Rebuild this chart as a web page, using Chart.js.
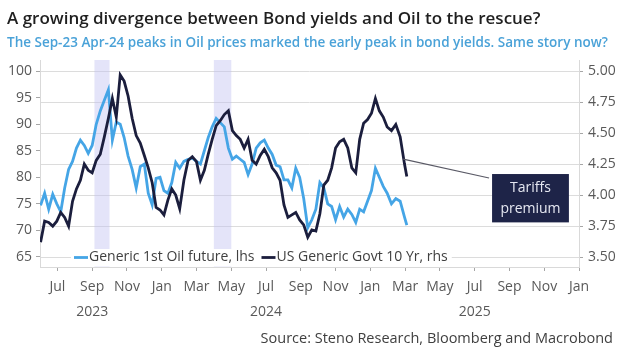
<!DOCTYPE html>
<html><head><meta charset="utf-8">
<script src="https://cdn.jsdelivr.net/npm/chart.js@4.4.1/dist/chart.umd.min.js"></script>
<style>
html,body{margin:0;padding:0;background:#fff;}
#wrap{position:relative;width:624px;height:357px;}
#source{position:absolute;right:11px;top:328px;line-height:20px;font-family:'Open Sans',sans-serif;font-size:14.5px;color:#404040;white-space:nowrap;}
</style></head><body>
<div id="wrap"><canvas id="c" width="624" height="357"></canvas><div id="source">Source: Steno Research, Bloomberg and Macrobond</div></div>
<script>
const dates = [
 '2023-06-02','2023-06-09','2023-06-16','2023-06-23','2023-06-30','2023-07-07','2023-07-14','2023-07-21','2023-07-28',
 '2023-08-04','2023-08-11','2023-08-18','2023-08-25','2023-09-01','2023-09-08','2023-09-15','2023-09-22','2023-09-29',
 '2023-10-06','2023-10-13','2023-10-20','2023-10-27','2023-11-03','2023-11-10','2023-11-17','2023-11-24',
 '2023-12-01','2023-12-08','2023-12-15','2023-12-22','2023-12-29',
 '2024-01-05','2024-01-12','2024-01-19','2024-01-26','2024-02-02','2024-02-09','2024-02-16','2024-02-23',
 '2024-03-01','2024-03-08','2024-03-15','2024-03-22','2024-03-29','2024-04-05','2024-04-12','2024-04-19','2024-04-26',
 '2024-05-03','2024-05-10','2024-05-17','2024-05-24','2024-05-31','2024-06-07','2024-06-14','2024-06-21','2024-06-28',
 '2024-07-05','2024-07-12','2024-07-19','2024-07-26','2024-08-02','2024-08-09','2024-08-16','2024-08-23','2024-08-30',
 '2024-09-06','2024-09-13','2024-09-20','2024-09-27','2024-10-04','2024-10-11','2024-10-18','2024-10-25',
 '2024-11-01','2024-11-08','2024-11-15','2024-11-22','2024-11-29','2024-12-06','2024-12-13','2024-12-20','2024-12-27',
 '2025-01-03','2025-01-10','2025-01-17','2025-01-24','2025-01-31','2025-02-07','2025-02-14','2025-02-21','2025-02-28',
 '2025-03-04'
];
const oilFuture = [
 74.7,77,74,76.8,75,73.5,78,81.5,83,
 85.5,87,86,84.5,86,90,92.5,94.5,96.5,
 87,90.4,90,87.5,84,81.5,78,82,
 82.5,77,74.8,79.8,80,
 77.5,77,79,82.8,81.7,83,83.4,83.6,
 83,82.5,85,87.5,89.5,91.1,90.3,89.5,85.5,
 83.4,84,83.4,82.8,80.5,82.5,85.5,86.5,87,
 85.5,84.3,82.3,82,79.5,79.5,78,81.7,80,
 76,70.5,72,74,79,78,75,74.5,
 72,74.5,72.5,74,73,71.5,74,73.5,75.5,
 77.5,81.7,80,78.3,77,75,76,75.5,72.5,
 71
];
const usGovt10y = [
 3.62,3.79,3.78,3.75,3.79,3.86,3.82,3.75,3.95,
 4.05,4.12,4.25,4.20,4.18,4.28,4.33,4.47,4.62,
 4.78,4.63,4.97,4.92,4.80,4.62,4.48,4.42,
 4.32,4.22,4.10,3.90,3.88,
 3.84,3.96,4.05,4.00,3.89,4.12,4.28,4.31,
 4.27,4.12,4.20,4.33,4.45,4.56,4.60,4.65,4.68,
 4.52,4.48,4.45,4.38,4.45,4.28,4.25,4.32,4.37,
 4.31,4.22,4.18,4.12,3.92,3.82,3.84,3.86,3.80,
 3.76,3.66,3.72,3.71,3.85,4.08,4.12,4.22,
 4.38,4.43,4.45,4.38,4.22,4.18,4.45,4.58,4.61,
 4.66,4.78,4.68,4.63,4.55,4.52,4.57,4.47,4.25,
 4.15
];
const seriesNames = ['Generic 1st Oil future, lhs','US Generic Govt 10 Yr, rhs'];
const monthNames = ['Jan','Feb','Mar','Apr','May','Jun','Jul','Aug','Sep','Oct','Nov','Dec'];
const monthTickDates = ['2023-07-01','2023-09-01','2023-11-01','2024-01-01','2024-03-01','2024-05-01','2024-07-01','2024-09-01','2024-11-01','2025-01-01','2025-03-01','2025-05-01','2025-07-01','2025-09-01','2025-11-01','2026-01-01'];
const yearLabels = ['2023','2024','2025'];
const yearLabelDates = ['2023-09-01','2024-07-01','2025-07-01'];
const leftTicks = [65,70,75,80,85,90,95,100];
const rightTicks = [3.50,3.75,4.00,4.25,4.50,4.75,5.00];
const shadedPeriods = [['2023-09-05','2023-10-01'],['2024-04-01','2024-05-01']];
const titleText = 'A growing divergence between Bond yields and Oil to the rescue?';
const subtitleText = 'The Sep-23 Apr-24 peaks in Oil prices marked the early peak in bond yields. Same story now?';
const noteLines = ['Tariffs','premium'];
const notePoint = {date:'2025-02-26', value:4.29};
const noteBox = {from:'2025-08-01', to:'2025-12-14', low:3.78, high:4.17};

function monthPos(s){
  const p = s.split('-').map(Number);
  const dim = new Date(p[0], p[1], 0).getDate();
  return (p[0]-2023)*12 + (p[1]-1) + (p[2]-1)/dim;
}
const FONT = "'Open Sans', sans-serif";
const COL_OIL = '#45a5e6';
const COL_YLD = '#1b1e3d';

const bandsPlugin = {
  id:'bands',
  beforeDatasetsDraw(chart){
    const {ctx, chartArea:a, scales:{x}} = chart;
    ctx.save();
    ctx.fillStyle = 'rgba(190,190,240,0.42)';
    shadedPeriods.forEach(p=>{
      const x0 = x.getPixelForValue(monthPos(p[0])), x1 = x.getPixelForValue(monthPos(p[1]));
      ctx.fillRect(x0, a.top, x1-x0, a.bottom-a.top);
    });
    ctx.restore();
  }
};
const overlayPlugin = {
  id:'overlay',
  afterDatasetsDraw(chart){
    const {ctx, chartArea:a, scales:{x, yR}} = chart;
    ctx.save();
    // legend
    ctx.font = '14px ' + FONT;
    ctx.textBaseline = 'middle';
    const ly = 257.5;
    const w1 = ctx.measureText(seriesNames[0]).width;
    const w2 = ctx.measureText(seriesNames[1]).width;
    const lx = 74;
    const x2 = lx + 15 + w1 + 7;
    ctx.fillStyle = '#ffffff';
    ctx.fillRect(lx-3, 249, (x2 + 15 + w2 + 4) - (lx-3), a.bottom - 249 - 0.5);
    ctx.lineWidth = 2.8;
    ctx.strokeStyle = COL_OIL;
    ctx.beginPath(); ctx.moveTo(lx, ly); ctx.lineTo(lx+14, ly); ctx.stroke();
    ctx.strokeStyle = COL_YLD;
    ctx.beginPath(); ctx.moveTo(x2, ly); ctx.lineTo(x2+14, ly); ctx.stroke();
    ctx.fillStyle = '#404040';
    ctx.fillText(seriesNames[0], lx+15, ly);
    ctx.fillText(seriesNames[1], x2+15, ly);
    // annotation
    const bx0 = x.getPixelForValue(monthPos(noteBox.from)), bx1 = x.getPixelForValue(monthPos(noteBox.to));
    const by0 = yR.getPixelForValue(noteBox.high), by1 = yR.getPixelForValue(noteBox.low);
    const px = x.getPixelForValue(monthPos(notePoint.date)), py = yR.getPixelForValue(notePoint.value);
    ctx.strokeStyle = '#5a5a66';
    ctx.lineWidth = 1.2;
    ctx.beginPath(); ctx.moveTo(bx0-3, by0+4); ctx.lineTo(px, py); ctx.stroke();
    ctx.fillStyle = '#1e2448';
    ctx.fillRect(bx0, by0, bx1-bx0, by1-by0);
    ctx.fillStyle = '#e6e8f2';
    ctx.textAlign = 'center';
    ctx.font = '14px ' + FONT;
    const cx = (bx0+bx1)/2, cy = (by0+by1)/2;
    ctx.fillText(noteLines[0], cx, cy-10);
    ctx.fillText(noteLines[1], cx, cy+11);
    ctx.restore();
  }
};
function zeroPad(s){ s.paddingTop=0; s.paddingBottom=0; s.paddingLeft=0; s.paddingRight=0; }

new Chart(document.getElementById('c'), {
  type:'line',
  data:{
    datasets:[
      {label:seriesNames[0], data:dates.map((d,i)=>({x:monthPos(d), y:oilFuture[i]})), yAxisID:'yL', borderColor:COL_OIL, borderWidth:2.8, pointRadius:0, tension:0, order:1},
      {label:seriesNames[1], data:dates.map((d,i)=>({x:monthPos(d), y:usGovt10y[i]})), yAxisID:'yR', borderColor:COL_YLD, borderWidth:2.8, pointRadius:0, tension:0, order:0}
    ]
  },
  options:{
    responsive:false, animation:false, devicePixelRatio:1,
    layout:{padding:{left:7,right:0,top:0,bottom:33}},
    plugins:{
      legend:{display:false}, tooltip:{enabled:false},
      title:{display:true, text:titleText, align:'start', color:'#1f1f1f', font:{family:FONT, size:17, weight:'600', lineHeight:1.2}, padding:{top:9,bottom:4}},
      subtitle:{display:true, text:subtitleText, align:'start', color:'#4aa2d8', font:{family:FONT, size:13.5, weight:'600', lineHeight:1.2}, padding:{top:1.5,bottom:8.9}}
    },
    scales:{
      x:{type:'linear', position:'bottom', min:5, max:36, weight:0,
        afterBuildTicks(s){ s.ticks = monthTickDates.map(d=>({value:monthPos(d)})); },
        ticks:{autoSkip:false, maxRotation:0, padding:8, color:'#595959', font:{family:FONT,size:14},
          callback(v){ return monthNames[Math.round(v)%12]; }},
        grid:{drawOnChartArea:false, drawTicks:true, tickLength:4, color:'#a6a6a6'},
        border:{color:'#d9d9d9'},
        afterFit(s){ s.height = 33; zeroPad(s); }
      },
      x2:{type:'linear', position:'bottom', min:5, max:36, weight:1,
        afterBuildTicks(s){ s.ticks = yearLabelDates.map(d=>({value:monthPos(d)})); },
        ticks:{autoSkip:false, maxRotation:0, padding:4, color:'#595959', font:{family:FONT,size:14},
          callback(v, i){ return yearLabels[i]; }},
        grid:{display:false, drawTicks:false}, border:{display:false},
        afterFit(s){ s.height = 24; zeroPad(s); }
      },
      yL:{type:'linear', position:'left', min:63.1, max:102.1,
        afterBuildTicks(s){ s.ticks = leftTicks.map(v=>({value:v})); },
        ticks:{padding:4, color:'#595959', font:{family:FONT,size:14}},
        grid:{drawOnChartArea:false, tickLength:4, color:'#a6a6a6'},
        border:{color:'#d9d9d9'},
        afterFit(s){ s.width = 33; zeroPad(s); }
      },
      yR:{type:'linear', position:'right', min:3.42, max:5.09,
        afterBuildTicks(s){ s.ticks = rightTicks.map(v=>({value:v})); },
        ticks:{padding:5, color:'#595959', font:{family:FONT,size:14}, callback(v){ return v.toFixed(2); }},
        grid:{drawOnChartArea:true, tickLength:4, color:'#dcdcdc', tickColor:'#a6a6a6'},
        border:{color:'#d9d9d9'},
        afterFit(s){ s.width = 45; zeroPad(s); }
      }
    }
  },
  plugins:[bandsPlugin, overlayPlugin]
});
</script>
</body></html>
